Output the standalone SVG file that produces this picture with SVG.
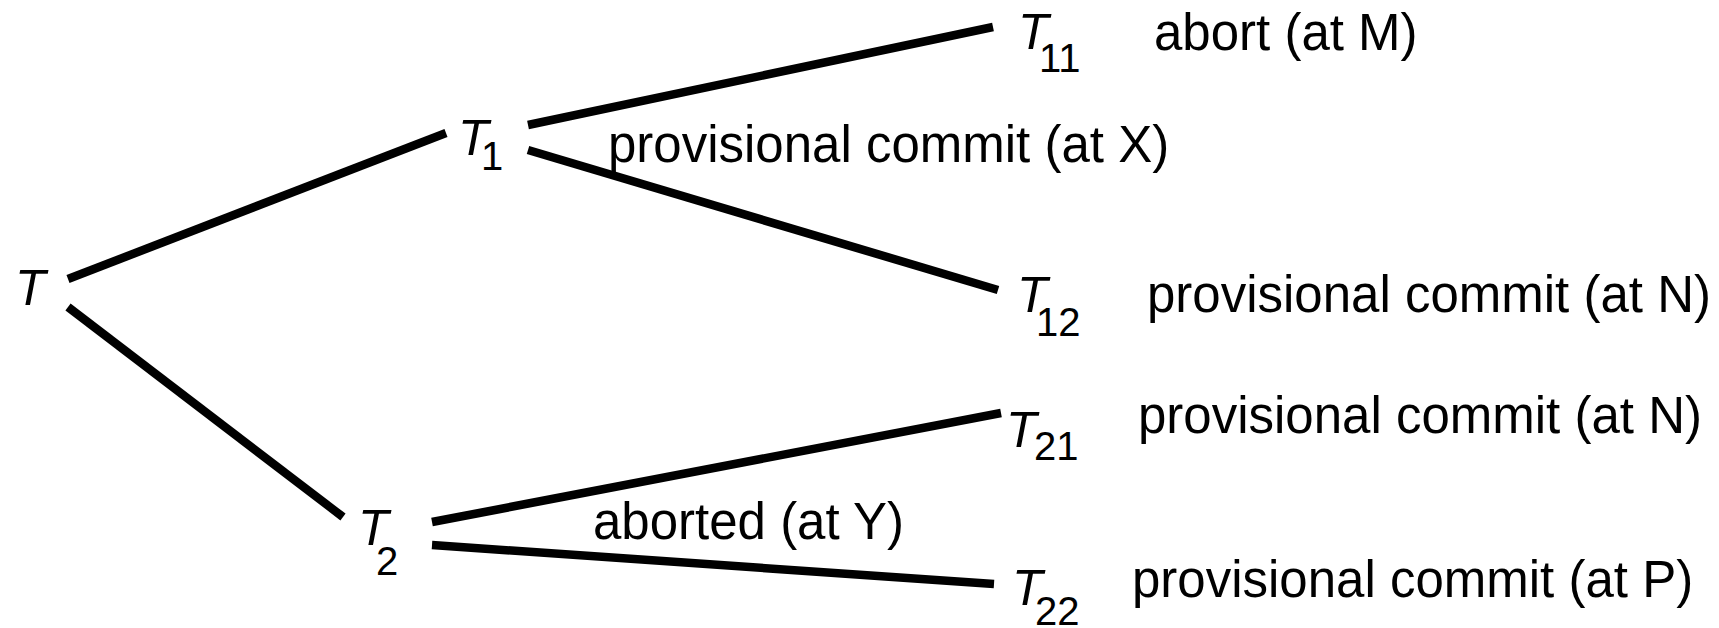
<svg xmlns="http://www.w3.org/2000/svg" width="1719" height="628" viewBox="0 0 1719 628">
<style>
.e{stroke:#000;stroke-width:8.5;fill:none;stroke-linecap:butt}
text{font-family:"Liberation Sans",Arial,sans-serif;fill:#000}
.n{font-size:50px;font-style:italic}
.s{font-size:40px}
.l{font-size:51px}
</style>
<rect width="1719" height="628" fill="#fff"/>
<g id="connectors">
<line class="e" x1="68" y1="279" x2="446" y2="133"/>
<line class="e" x1="68" y1="307" x2="343" y2="517"/>
<line class="e" x1="528" y1="125" x2="993" y2="27"/>
<line class="e" x1="528" y1="150" x2="998" y2="290"/>
<line class="e" x1="432" y1="522" x2="1001" y2="413"/>
<line class="e" x1="432" y1="545" x2="994" y2="584"/>
</g>
<g id="T"><text class="n" x="15" y="305">T</text></g>
<g id="T1"><text class="n" x="458" y="155">T</text><text class="s" x="481" y="170">1</text></g>
<g id="T11"><text class="n" x="1018" y="49">T</text><text class="s" x="1039" y="72">11</text></g>
<g id="T12"><text class="n" x="1017" y="312">T</text><text class="s" x="1036" y="336">12</text></g>
<g id="T21"><text class="n" x="1006" y="447">T</text><text class="s" x="1034" y="460">21</text></g>
<g id="T22"><text class="n" x="1012" y="605">T</text><text class="s" x="1035" y="625">22</text></g>
<g id="T2"><text class="n" x="358" y="545">T</text><text class="s" x="376" y="575">2</text></g>
<g id="labels">
<text class="l" x="1154" y="50">abort (at M)</text>
<text class="l" x="608" y="162">provisional commit (at X)</text>
<text class="l" x="1147" y="312">provisional commit (at N)</text>
<text class="l" x="1138" y="433">provisional commit (at N)</text>
<text class="l" x="1132" y="597">provisional commit (at P)</text>
<text class="l" x="593" y="539">aborted (at Y)</text>
</g>
</svg>
